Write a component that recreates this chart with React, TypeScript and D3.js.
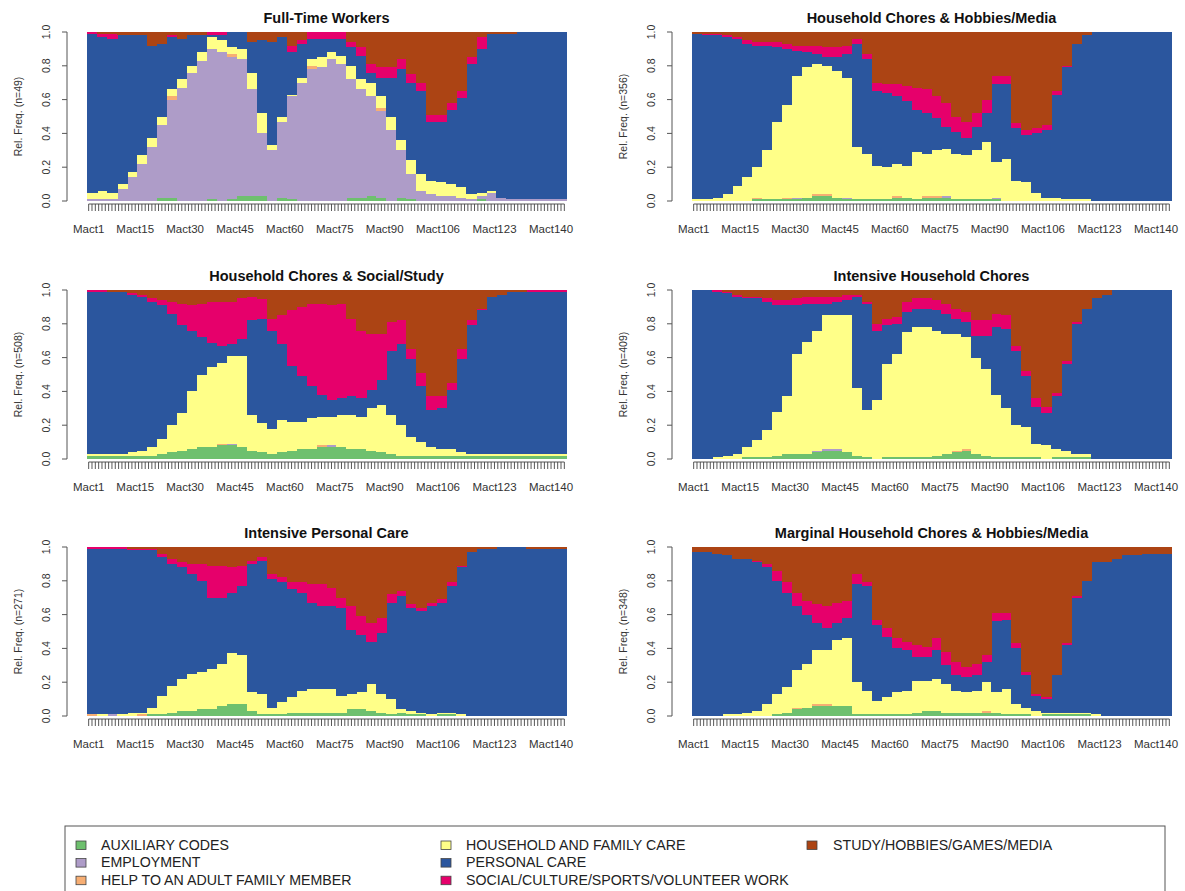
import * as d3 from "d3";

// states, in stacking order (bottom to top)
const stateNames = [
  "AUXILIARY CODES",
  "EMPLOYMENT",
  "HELP TO AN ADULT FAMILY MEMBER",
  "HOUSEHOLD AND FAMILY CARE",
  "PERSONAL CARE",
  "SOCIAL/CULTURE/SPORTS/VOLUNTEER WORK",
  "STUDY/HOBBIES/GAMES/MEDIA",
];
const stateColors = ["#6EC06E", "#AE9CC8", "#F7AE73", "#FFFF88", "#2B569E", "#E6006B", "#AC4414"];

const nSlots = 144;
const tickSlots = [1, 15, 30, 45, 60, 75, 90, 106, 123, 140];
const yTicks = [0, 0.2, 0.4, 0.6, 0.8, 1.0];

// each array: share (%) per half hour block (3 slots)
const ftAux = [0,0,0,0,0,0,0,2,2,0, 0,0,1,0,1,3,3,3,0,2, 1,0,0,0,0,0,2,2,3,2, 0,2,1,0,0,0,0,0,0,1, 0,0,0,0,0,0,0,0];
const ftEmp = [1,1,1,7,14,22,32,43,58,67, 76,83,89,88,84,81,63,37,30,45, 61,70,78,79,84,81,70,64,59,51, 42,28,15,6,4,3,3,2,1,2, 5,2,1,1,1,1,1,1];
const ftHelp = [0,0,0,0,0,0,0,0,2,0, 0,0,0,0,2,0,0,0,0,0, 0,0,2,0,0,0,0,0,0,2, 0,0,0,0,0,0,0,0,0,0, 0,0,0,0,0,0,0,0];
const ftHh = [4,5,4,3,3,5,5,5,4,5, 4,5,7,7,4,6,10,12,3,3, 1,3,4,6,4,5,8,6,8,7, 8,6,8,10,8,8,7,6,3,2, 1,0,0,0,0,0,0,0];
const ftPc = [94,91,91,88,81,71,55,43,31,24, 18,10,1,3,9,10,18,43,61,47, 25,20,12,11,8,10,11,14,6,11, 23,42,46,49,35,36,44,53,77,85, 93,97,98,99,99,99,99,99];
const ftSoc = [1,2,3,0,0,0,0,0,1,0, 0,0,2,2,0,0,0,0,0,0, 4,2,4,4,4,4,3,5,5,6, 6,6,5,5,4,4,4,4,4,7, 0,0,0,0,0,0,0,0];
const ftStudy = [0,1,1,2,2,2,8,7,2,4, 2,2,0,0,0,0,6,5,6,3, 8,5,0,0,0,0,6,9,19,21, 21,16,25,30,49,49,42,35,15,3, 1,1,1,0,0,0,0,0];

const hmAux = [0,0,0,0,0,0,1,1,1,1, 1,2,3,3,2,1,1,1,1,1, 2,2,1,2,2,2,1,1,1,1, 1,0,0,0,0,0,0,0,0,0, 0,0,0,0,0,0,0,0];
const hmEmp = [0,0,0,0,0,0,0,0,0,0, 1,0,0,0,0,1,0,0,0,0, 0,0,0,0,0,1,0,0,0,0, 1,0,0,0,0,0,0,0,0,0, 0,0,0,0,0,0,0,0];
const hmHelp = [0,0,0,0,0,0,1,0,0,1, 0,0,1,1,0,0,0,0,0,0, 1,0,0,1,1,0,0,0,0,0, 0,0,0,0,0,0,0,0,0,0, 0,0,0,0,0,0,0,0];
const hmHh = [1,1,2,4,9,14,18,29,46,55, 72,77,77,76,75,71,31,27,20,19, 19,19,28,25,27,28,27,26,29,34, 21,25,12,11,5,2,2,1,1,1, 0,0,0,0,0,0,0,0];
const hmPc = [98,97,96,93,87,79,72,62,44,33, 15,9,6,5,8,14,61,56,44,44, 40,38,25,24,19,13,13,10,14,17, 46,44,31,28,35,40,61,78,92,97, 100,100,100,100,100,100,100,100];
const hmSoc = [0,1,1,1,1,2,2,2,3,3, 3,4,5,6,6,5,3,3,5,5, 7,9,13,14,13,14,9,10,8,8, 5,5,3,3,3,3,2,1,0,0, 0,0,0,0,0,0,0,0];
const hmStudy = [1,1,1,2,3,5,6,6,6,7, 8,8,8,9,9,8,4,13,30,31, 31,32,33,34,38,42,50,53,48,40, 26,26,54,58,57,55,35,20,7,2, 0,0,0,0,0,0,0,0];

const hsAux = [2,2,2,2,2,2,2,3,4,5, 6,7,7,8,8,7,5,4,3,4, 5,6,6,7,7,7,6,6,5,4, 3,2,2,2,2,2,2,2,2,2, 2,2,2,2,2,2,2,2];
const hsEmp = [0,0,0,0,0,0,0,0,0,0, 0,0,0,0,1,0,0,0,0,0, 0,0,0,0,1,0,0,0,0,0, 0,0,0,0,0,0,0,0,0,0, 0,0,0,0,0,0,0,0];
const hsHelp = [0,0,0,0,0,0,0,0,0,0, 0,0,0,1,0,0,0,0,0,0, 0,0,0,1,0,0,0,0,0,0, 0,0,0,0,0,0,0,0,0,0, 0,0,0,0,0,0,0,0];
const hsHh = [1,1,1,1,2,3,5,9,16,22, 34,43,47,48,52,54,21,17,15,19, 17,16,18,17,17,19,20,19,25,28, 23,18,11,8,5,4,4,2,1,1, 1,1,1,1,1,1,1,1];
const hsPc = [96,96,96,96,93,91,86,79,66,52, 36,22,14,10,7,10,56,61,58,45, 33,27,19,13,10,10,11,11,11,15, 38,48,46,33,22,24,35,55,76,85, 93,94,96,96,96,96,96,96];
const hsSoc = [1,1,0,0,1,1,2,3,7,13, 15,20,24,26,25,24,14,12,7,17, 33,41,49,54,56,56,46,40,33,27, 17,14,6,8,8,7,4,6,3,1, 0,0,0,0,1,1,1,1];
const hsStudy = [0,0,1,1,2,3,5,6,7,8, 9,8,7,7,7,5,4,5,17,15, 12,10,8,8,9,8,17,24,26,26, 19,18,35,49,63,63,55,35,18,11, 4,3,1,1,0,0,0,0];

const ihAux = [0,0,0,0,0,1,1,1,2,3, 3,3,4,5,5,4,2,1,0,1, 1,1,1,1,2,3,4,5,3,2, 1,1,1,1,1,0,1,1,1,1, 0,0,0,0,0,0,0,0];
const ihEmp = [0,0,0,0,0,0,0,0,0,0, 0,0,1,1,1,0,0,0,0,0, 0,0,0,0,0,0,0,0,0,0, 0,0,0,0,0,0,0,0,0,0, 0,0,0,0,0,0,0,0];
const ihHelp = [0,0,0,0,0,0,0,0,0,0, 0,0,0,0,0,0,0,0,0,0, 0,0,0,0,0,0,1,1,0,0, 0,0,0,0,0,0,0,0,0,0, 0,0,0,0,0,0,0,0];
const ihHh = [0,0,1,2,3,6,10,16,26,34, 59,66,71,79,79,81,40,28,35,55, 61,74,77,77,74,71,69,66,57,51, 37,29,19,18,8,8,5,4,2,2, 0,0,0,0,0,0,0,0];
const ihPc = [100,100,98,96,93,88,84,76,63,54, 29,23,16,7,8,9,54,63,41,23, 18,12,11,11,12,12,9,9,13,20, 40,47,44,30,22,19,31,51,77,86, 95,97,100,100,100,100,100,100];
const ihSoc = [0,0,1,1,1,1,1,2,3,3, 4,4,4,4,3,3,1,1,4,4, 4,6,6,6,6,6,6,6,9,9, 8,8,3,3,5,4,2,2,1,0, 0,0,0,0,0,0,0,0];
const ihStudy = [0,0,0,1,3,4,4,5,6,6, 5,4,4,4,4,3,3,7,20,17, 16,7,5,5,6,8,11,13,18,18, 14,15,33,48,64,69,61,42,19,11, 5,3,0,0,0,0,0,0];

const ipAux = [0,0,0,0,0,0,1,1,2,3, 3,4,4,6,7,7,3,1,1,1, 2,2,2,2,2,2,4,4,3,2, 1,2,1,1,0,1,1,0,0,0, 0,0,0,0,0,0,0,0];
const ipEmp = [0,0,1,0,0,0,0,0,0,0, 0,0,0,0,0,0,0,0,0,0, 0,0,0,0,0,0,0,0,0,0, 0,0,0,0,0,0,0,0,0,0, 0,0,0,0,0,0,0,0];
const ipHelp = [1,0,0,0,0,1,0,0,0,0, 0,0,0,0,0,0,0,0,0,0, 0,0,0,0,0,0,0,0,0,0, 0,0,0,0,0,0,0,0,0,0, 0,0,0,0,0,0,0,0];
const ipHh = [0,1,0,1,2,1,4,11,16,19, 22,22,24,25,30,29,11,12,4,7, 9,13,14,14,14,10,9,10,16,11, 9,2,2,1,1,1,1,1,0,0, 0,0,0,0,0,0,0,0];
const ipPc = [98,98,98,98,96,96,93,82,72,66, 59,54,42,39,36,41,76,79,76,71, 64,58,51,49,49,52,38,34,25,36, 57,67,61,60,64,65,75,87,97,99, 99,100,100,100,99,99,99,99];
const ipSoc = [1,1,1,1,1,1,1,2,3,3, 6,10,19,19,15,12,2,2,3,3, 4,6,11,13,11,6,14,11,11,9, 5,3,2,2,2,2,2,1,0,0, 0,0,0,0,0,0,0,0];
const ipStudy = [0,0,0,0,1,1,1,4,7,9, 10,10,11,11,12,11,8,6,16,18, 21,21,22,22,24,30,35,41,45,42, 28,26,34,36,33,31,21,11,3,1, 1,0,0,0,1,1,1,1];

const mhAux = [0,0,0,0,0,0,0,0,1,2, 4,5,6,6,6,6,1,1,1,1, 1,1,2,3,3,2,2,2,2,2, 2,1,1,1,0,1,1,1,1,1, 0,0,0,0,0,0,0,0];
const mhEmp = [0,0,0,0,0,0,0,0,0,0, 0,0,0,0,0,0,0,0,0,0, 0,0,0,0,0,0,0,0,0,0, 0,0,0,0,0,0,0,0,0,0, 0,0,0,0,0,0,0,0];
const mhHelp = [0,0,0,0,0,0,0,0,0,0, 1,0,1,1,0,0,0,0,0,0, 0,0,0,0,0,0,0,0,0,1, 0,0,0,0,0,0,0,0,0,0, 0,0,0,0,0,0,0,0];
const mhHh = [0,0,0,1,1,2,3,7,12,15, 22,26,32,32,39,40,19,14,8,10, 13,14,19,18,19,17,13,12,13,17, 12,15,6,4,3,1,1,1,1,1, 1,0,0,0,0,0,0,0];
const mhPc = [97,97,96,94,92,91,88,81,67,56, 38,29,16,13,10,12,58,62,45,36, 26,24,14,14,17,11,9,9,9,12, 42,41,33,19,9,8,22,40,68,78, 90,91,93,95,95,96,96,96];
const mhSoc = [0,0,0,0,0,0,1,2,6,6, 8,8,11,13,12,10,6,2,3,5, 6,5,7,6,7,8,8,6,7,4, 5,4,3,2,1,1,0,1,1,0, 0,0,0,0,0,0,0,0];
const mhStudy = [3,3,4,5,7,7,8,10,14,21, 27,32,34,35,33,32,16,21,43,48, 54,56,58,59,54,62,68,71,69,64, 39,39,57,74,87,89,76,57,29,20, 9,9,7,5,5,4,4,4];

const panels = [
  { title: "Full-Time Workers", n: 49, values: [ftAux, ftEmp, ftHelp, ftHh, ftPc, ftSoc, ftStudy] },
  { title: "Household Chores & Hobbies/Media", n: 356, values: [hmAux, hmEmp, hmHelp, hmHh, hmPc, hmSoc, hmStudy] },
  { title: "Household Chores & Social/Study", n: 508, values: [hsAux, hsEmp, hsHelp, hsHh, hsPc, hsSoc, hsStudy] },
  { title: "Intensive Household Chores", n: 409, values: [ihAux, ihEmp, ihHelp, ihHh, ihPc, ihSoc, ihStudy] },
  { title: "Intensive Personal Care", n: 271, values: [ipAux, ipEmp, ipHelp, ipHh, ipPc, ipSoc, ipStudy] },
  { title: "Marginal Household Chores & Hobbies/Media", n: 348, values: [mhAux, mhEmp, mhHelp, mhHh, mhPc, mhSoc, mhStudy] },
];

const width = 1185, height = 891;
const colX = [87, 692];
const rowY = [32, 290, 547];
const plotW = 479, plotH = 169;
const font = "'Liberation Sans', Arial, Helvetica, sans-serif";

function Panel({ p, x0, y0 }: { p: typeof panels[number]; x0: number; y0: number }) {
  const blocks = d3.range(p.values[0].length);
  const rows = blocks.map((k) => Object.fromEntries(stateNames.map((s, j) => [s, p.values[j][k]])));
  const series = d3.stack<any>().keys(stateNames).offset(d3.stackOffsetExpand)(rows);
  const xb = d3.scaleBand<number>().domain(blocks).range([x0, x0 + plotW]);
  const xs = d3.scaleBand<number>().domain(d3.range(1, nSlots + 1)).range([x0, x0 + plotW]);
  const xc = (i: number) => (xs(i) as number) + xs.bandwidth() / 2;
  const y = d3.scaleLinear([0, 1], [y0 + plotH, y0]);
  const axisX = x0 - 20;
  const base = y0 + plotH;

  return (
    <g fontFamily={font}>
      <text x={x0 + plotW / 2} y={y0 - 9} textAnchor="middle" fontWeight="bold" fontSize={14.5} fill="#111">
        {p.title}
      </text>
      {series.map((s, j) => (
        <g key={j} fill={stateColors[j]} shapeRendering="crispEdges">
          {s.map((d, k) =>
            d[1] - d[0] > 0 ? (
              <rect key={k} x={xb(k)} width={xb.bandwidth() + 0.6} y={y(d[1])} height={y(d[0]) - y(d[1])} />
            ) : null
          )}
        </g>
      ))}
      {/* y axis */}
      <line x1={axisX} x2={axisX} y1={y(0)} y2={y(1)} stroke="#555" />
      {yTicks.map((t) => (
        <g key={t}>
          <line x1={axisX - 5} x2={axisX} y1={y(t)} y2={y(t)} stroke="#555" />
          <text transform={`translate(${axisX - 17},${y(t)}) rotate(-90)`} textAnchor="middle" fontSize={10.5} fill="#333">
            {d3.format(".1f")(t)}
          </text>
        </g>
      ))}
      <text transform={`translate(${axisX - 45},${y0 + plotH / 2}) rotate(-90)`} textAnchor="middle" fontSize={10.5} fill="#333">
        {`Rel. Freq. (n=${p.n})`}
      </text>
      {/* x axis */}
      <line x1={xc(1)} x2={xc(nSlots)} y1={base + 3} y2={base + 3} stroke="#555" />
      {d3.range(1, nSlots + 1).map((i) => (
        <line key={i} x1={xc(i)} x2={xc(i)} y1={base + 3} y2={base + 10} stroke="#444" strokeWidth={0.9} />
      ))}
      {tickSlots.map((i) => (
        <text key={i} x={xc(i)} y={base + 32} textAnchor="middle" fontSize={11.5} fill="#333">
          {`Mact${i}`}
        </text>
      ))}
    </g>
  );
}

const legendCols = [
  { sx: 76, tx: 101, items: [0, 1, 2] },
  { sx: 441, tx: 466, items: [3, 4, 5] },
  { sx: 807, tx: 833, items: [6] },
];

export default function App() {
  return (
    <svg width={width} height={height} style={{ position: "absolute", left: 0, top: 0, background: "#fff" }}>
      <rect width={width} height={height} fill="#fff" />
      {panels.map((p, i) => (
        <Panel key={i} p={p} x0={colX[i % 2]} y0={rowY[Math.floor(i / 2)]} />
      ))}
      <g fontFamily={font}>
        <rect x={65} y={826} width={1100} height={80} fill="#fff" stroke="#555" />
        {legendCols.map((c, ci) =>
          c.items.map((s, r) => (
            <g key={`${ci}-${r}`}>
              <rect x={c.sx} y={841 + r * 17.6} width={10} height={8.5} fill={stateColors[s]} stroke="#444" strokeWidth={0.8} />
              <text x={c.tx} y={849.5 + r * 17.6} fontSize={14.2} fill="#222">
                {stateNames[s]}
              </text>
            </g>
          ))
        )}
      </g>
    </svg>
  );
}
